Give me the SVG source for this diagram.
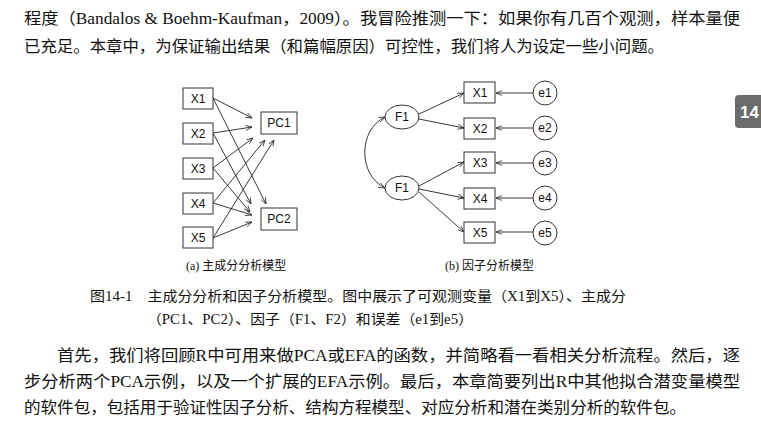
<svg xmlns="http://www.w3.org/2000/svg" width="761" height="425" viewBox="0 0 761 425">
<defs>
<marker id="a" viewBox="0 0 10 10" refX="10" refY="5" markerWidth="7" markerHeight="7" orient="auto-start-reverse"><path d="M0,1 L10,5 L0,9" fill="none" stroke="#222" stroke-width="1.2"/></marker>
</defs>
<style>
text{font-family:"Liberation Serif","Noto Sans CJK SC",serif;fill:#111}
.b{fill:#fff;stroke:#333;stroke-width:1}
.n{font-family:"Liberation Sans","Noto Sans CJK SC",sans-serif;font-size:12px;text-anchor:middle}
.c line,.c path{stroke:#222;stroke-width:0.9;fill:none;marker-end:url(#a)}
.t{font-size:16px}
.cap{font-size:14px}
</style>
<rect width="761" height="425" fill="#fff"/>
<text class="t" x="24" y="24" textLength="716" lengthAdjust="spacingAndGlyphs">程度（Bandalos &amp; Boehm-Kaufman，2009）。我冒险推测一下：如果你有几百个观测，样本量便</text>
<text class="t" x="24" y="52" textLength="640" lengthAdjust="spacingAndGlyphs">已充足。本章中，为保证输出结果（和篇幅原因）可控性，我们将人为设定一些小问题。</text>
<rect x="735" y="95" width="30" height="33" rx="4" fill="#6b6b6b"/>
<text x="740" y="118" style="font-family:'Liberation Sans',sans-serif;font-size:17px;font-weight:bold;fill:#fff">14</text>
<g class="c">
<line x1="213" y1="98" x2="252" y2="118"/><line x1="213" y1="98" x2="266" y2="204"/>
<line x1="213" y1="133" x2="252" y2="127"/><line x1="213" y1="133" x2="251" y2="204"/>
<line x1="213" y1="168" x2="253" y2="138"/><line x1="213" y1="168" x2="250" y2="212"/>
<line x1="213" y1="203" x2="265" y2="140"/><line x1="213" y1="203" x2="252" y2="215"/>
<line x1="213" y1="238" x2="274" y2="140"/><line x1="213" y1="238" x2="252" y2="222"/>
<line x1="419" y1="114" x2="464" y2="93"/><line x1="419" y1="119" x2="464" y2="128"/>
<line x1="419" y1="186" x2="464" y2="162"/><line x1="419" y1="189" x2="464" y2="198"/><line x1="419" y1="192" x2="464" y2="232"/>
<line x1="533" y1="93" x2="496" y2="93"/><line x1="533" y1="128" x2="496" y2="128"/><line x1="533" y1="163" x2="496" y2="163"/><line x1="533" y1="198" x2="496" y2="198"/><line x1="533" y1="232" x2="496" y2="232"/>
<path d="M385,117 C358,130 358,175 385,188" style="marker-start:url(#a)"/>
</g>
<g id="X1a"><rect class="b" x="183" y="88" width="30" height="21"/><text class="n" x="198" y="103">X1</text></g>
<g id="X2a"><rect class="b" x="183" y="123" width="30" height="21"/><text class="n" x="198" y="138">X2</text></g>
<g id="X3a"><rect class="b" x="183" y="158" width="30" height="21"/><text class="n" x="198" y="173">X3</text></g>
<g id="X4a"><rect class="b" x="183" y="193" width="30" height="21"/><text class="n" x="198" y="208">X4</text></g>
<g id="X5a"><rect class="b" x="183" y="227" width="30" height="21"/><text class="n" x="198" y="242">X5</text></g>
<g id="PC1"><rect class="b" x="261" y="112" width="36" height="22"/><text class="n" x="279" y="127">PC1</text></g>
<g id="PC2"><rect class="b" x="261" y="208" width="36" height="22"/><text class="n" x="279" y="223">PC2</text></g>
<g id="F1a"><ellipse class="b" cx="402" cy="117" rx="17" ry="12"/><text class="n" x="402" y="121">F1</text></g>
<g id="F1b"><ellipse class="b" cx="402" cy="188" rx="17" ry="12"/><text class="n" x="402" y="192">F1</text></g>
<g id="X1b"><rect class="b" x="464" y="82" width="31" height="21"/><text class="n" x="480" y="97">X1</text></g>
<g id="X2b"><rect class="b" x="464" y="118" width="31" height="21"/><text class="n" x="480" y="133">X2</text></g>
<g id="X3b"><rect class="b" x="464" y="152" width="31" height="21"/><text class="n" x="480" y="167">X3</text></g>
<g id="X4b"><rect class="b" x="464" y="188" width="31" height="21"/><text class="n" x="480" y="203">X4</text></g>
<g id="X5b"><rect class="b" x="464" y="222" width="31" height="21"/><text class="n" x="480" y="237">X5</text></g>
<g id="e1"><circle class="b" cx="545" cy="93" r="12"/><text class="n" x="545" y="97">e1</text></g>
<g id="e2"><circle class="b" cx="545" cy="128" r="12"/><text class="n" x="545" y="132">e2</text></g>
<g id="e3"><circle class="b" cx="545" cy="163" r="12"/><text class="n" x="545" y="167">e3</text></g>
<g id="e4"><circle class="b" cx="545" cy="198" r="12"/><text class="n" x="545" y="202">e4</text></g>
<g id="e5"><circle class="b" cx="545" cy="233" r="12"/><text class="n" x="545" y="237">e5</text></g>
<text x="186" y="270" style="font-size:12px">(a) 主成分分析模型</text>
<text x="445" y="270" style="font-size:12px">(b) 因子分析模型</text>
<text class="cap" x="90" y="301" textLength="536" lengthAdjust="spacingAndGlyphs">图14-1　主成分分析和因子分析模型。图中展示了可观测变量（X1到X5）、主成分</text>
<text class="cap" x="147" y="324" textLength="326" lengthAdjust="spacingAndGlyphs">（PC1、PC2）、因子（F1、F2）和误差（e1到e5）</text>
<text class="t" x="57" y="361" textLength="683" lengthAdjust="spacingAndGlyphs">首先，我们将回顾R中可用来做PCA或EFA的函数，并简略看一看相关分析流程。然后，逐</text>
<text class="t" x="24" y="387" textLength="716" lengthAdjust="spacingAndGlyphs">步分析两个PCA示例，以及一个扩展的EFA示例。最后，本章简要列出R中其他拟合潜变量模型</text>
<text class="t" x="24" y="413" textLength="662" lengthAdjust="spacingAndGlyphs">的软件包，包括用于验证性因子分析、结构方程模型、对应分析和潜在类别分析的软件包。</text>
</svg>
